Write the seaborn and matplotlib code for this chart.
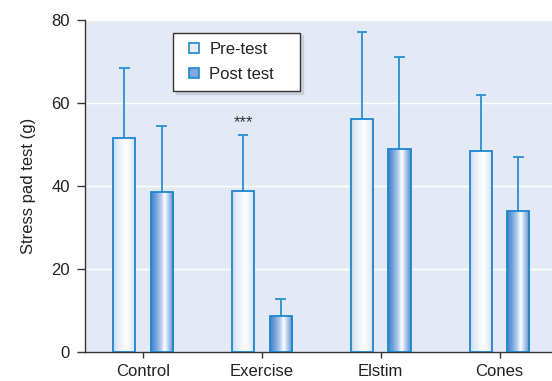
import numpy as np
import pandas as pd
import matplotlib
matplotlib.use("Agg")
import matplotlib.pyplot as plt
from matplotlib.colors import LinearSegmentedColormap
from matplotlib.lines import Line2D
import seaborn as sns

# Group means and upper standard deviations
groups = ["Control", "Exercise", "Elstim", "Cones"]
series = ["Pre-test", "Post test"]
pre_mean = [51.5, 38.7, 56.2, 48.5]
pre_sd = [17.0, 13.5, 20.8, 13.4]
post_mean = [38.6, 8.6, 48.8, 34.0]
post_sd = [15.9, 4.2, 22.3, 12.9]
y_ticks = [0, 20, 40, 60, 80]

df = pd.DataFrame({
    "group": groups * 2,
    "test": [series[0]] * 4 + [series[1]] * 4,
    "value": pre_mean + post_mean,
})
sds = {series[0]: pre_sd, series[1]: post_sd}

sns.set_theme(style="white")
plt.rcParams["font.family"] = ["Liberation Sans", "DejaVu Sans"]

edge = "#1b87cf"
bg = "#e3e9f5"
pre_cmap = LinearSegmentedColormap.from_list(
    "pre", [(0, "#c9d8ee"), (0.15, "#dfe8f5"), (0.58, "#ffffff"),
            (0.85, "#e4ecf7"), (1, "#c6d7ee")])
post_cmap = LinearSegmentedColormap.from_list(
    "post", [(0, "#3f83c9"), (0.2, "#6d9ed8"), (0.45, "#b9d0ed"),
             (0.6, "#ffffff"), (0.8, "#a6c3e8"), (1, "#4d8dcf")])
cmaps = {series[0]: pre_cmap, series[1]: post_cmap}

fig = plt.figure(figsize=(5.52, 3.81), dpi=100)
ax = fig.add_axes([85 / 552, 29 / 381, 1 - 85 / 552, 332 / 381])
ax.set_facecolor(bg)

sns.barplot(data=df, x="group", y="value", hue="test", order=groups,
            hue_order=series, width=0.63, gap=0.41, legend=False,
            facecolor="none", edgecolor=edge, linewidth=1.3, ax=ax,
            errorbar=None)

grad = np.linspace(0, 1, 256).reshape(1, -1)
for level, container in zip(series, ax.containers):
    for i, bar in enumerate(container):
        x0, w, h = bar.get_x(), bar.get_width(), bar.get_height()
        bar.set_zorder(3)
        img = ax.imshow(grad, extent=[x0, x0 + w, 0, h], aspect="auto",
                        cmap=cmaps[level], zorder=2, interpolation="bicubic")
        img.set_clip_path(bar)
        # upward error bar with cap
        xc = x0 + w / 2
        top = h + sds[level][i]
        ax.vlines(xc, h, top, color="#2a8fd4", lw=1.3, zorder=2.5)
        ax.hlines(top, xc - 0.045, xc + 0.045, color="#2a8fd4", lw=1.3,
                  zorder=2.5)
        if level == series[0] and groups[i] == "Exercise":
            ax.text(xc, top + 1.2, "***", ha="center", va="bottom",
                    fontsize=12, color="#333333")

ax.set_xlim(-0.487, 3.44)
ax.set_ylim(0, 80)
ax.set_yticks(y_ticks)
ax.yaxis.grid(True, color="white", lw=1.0)
ax.set_axisbelow(True)
for s in ["top", "right"]:
    ax.spines[s].set_visible(False)
for s in ["left", "bottom"]:
    ax.spines[s].set_color("#333333")
    ax.spines[s].set_linewidth(1.0)
ax.tick_params(axis="both", which="major", direction="out", width=1.0,
               color="#333333", labelsize=12, labelcolor="#222222",
               left=True, bottom=True)
ax.tick_params(axis="y", length=6, pad=5)
ax.tick_params(axis="x", length=4.5, pad=4)
ax.set_xlabel("")
ax.set_ylabel("Stress pad test (g)", fontsize=12, color="#222222",
              labelpad=11)

handles = [Line2D([], [], ls="none", marker="s", markersize=7.5,
                  markerfacecolor="#e8eef8", markeredgecolor=edge, mew=1.2),
           Line2D([], [], ls="none", marker="s", markersize=7.5,
                  markerfacecolor="#7ea8dd", markeredgecolor=edge, mew=1.2)]
leg = ax.legend(handles, series, loc="upper left", mode="expand",
                bbox_to_anchor=(0.188, 0.5, 0.272, 0.462), fontsize=12,
                frameon=True, fancybox=False, framealpha=1,
                edgecolor="#333333", handlelength=1.5, handletextpad=0.15,
                borderpad=0.55, labelspacing=0.62, borderaxespad=0,
                shadow={"color": "#b8c0cc"})
leg.get_frame().set_linewidth(1.0)
for t in leg.get_texts():
    t.set_color("#222222")

fig.savefig("out.png", dpi=100)
